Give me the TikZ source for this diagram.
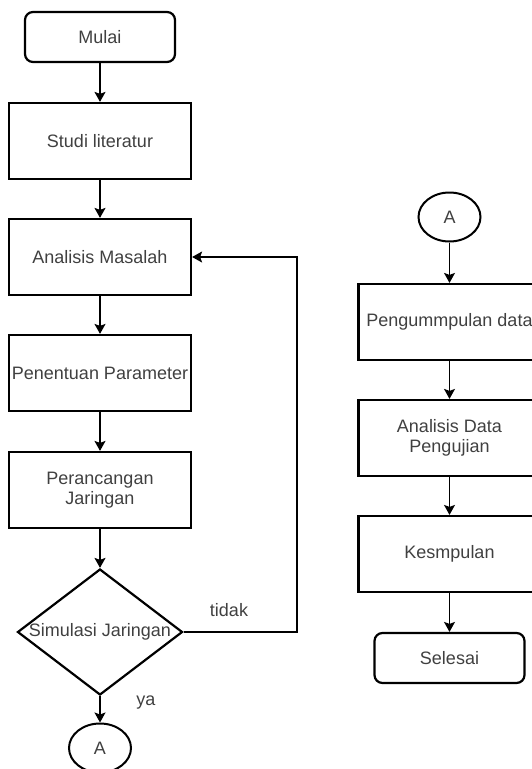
\documentclass[tikz,border=0pt]{standalone}
\usepackage{fontspec}
\setmainfont{Liberation Sans}
\usepackage{xcolor}
\usepackage{tikz}
\usetikzlibrary{arrows.meta, positioning, shapes.geometric}

\begin{document}
\begin{tikzpicture}[
  x=1pt, y=-1pt,
  every node/.style={font=\fontsize{18}{19.5}\selectfont, text=black!75},
  block/.style={rectangle, draw, line width=2.2pt, minimum width=182pt, minimum height=76pt, inner sep=0pt, align=center},
  term/.style={rectangle, draw, rounded corners=8pt, line width=2.2pt, minimum width=150pt, minimum height=50pt},
  decision/.style={diamond, draw, line width=2.2pt, minimum width=165pt, minimum height=126pt, inner sep=0pt},
  conn/.style={ellipse, draw, line width=2pt, minimum width=62pt, minimum height=49pt, inner sep=0pt},
  arrow/.style={-{Stealth[length=10pt, width=11pt, inset=2pt]}, line width=1.3pt}
]
 \useasboundingbox (0,0) rectangle (531,769);

 % Left column
 \node[term] (mulai) at (100,37) {Mulai};
 \node[block] (studi) at (100,141) {Studi literatur};
 \node[block] (masalah) at (100,257) {Analisis Masalah};
 \node[block] (param) at (100,373) {Penentuan Parameter};
 \node[block] (rancang) at (100,490) {Perancangan\\ Jaringan};
 \node[decision, label={[font=\fontsize{18}{19.5}\selectfont, text=black!75]center:Simulasi Jaringan}] (simulasi) at (100,632) {};
 \node[conn] (konA) at (100,748) {A};
 \draw[arrow] (mulai) -- (studi);
 \draw[arrow] (studi) -- (masalah);
 \draw[arrow] (masalah) -- (param);
 \draw[arrow] (param) -- (rancang);
 \draw[arrow] (rancang) -- (simulasi);
 \draw[arrow] (simulasi) -- (konA);
 \node (ya) at (146,703) {ya};

 % Loop back
 \coordinate (balik) at (297,632);
 \draw[arrow] (simulasi.east) -- (balik) |- (masalah.east);
 \node (tidak) at (229,610) {tidak};

 % Right column
 \node[conn] (konB) at (449.5,217) {A};
 \node[block] (kumpul) at (449.5,322) {Pengummpulan data};
 \node[block] (uji) at (449.5,438) {Analisis Data\\ Pengujian};
 \node[block] (simpul) at (449.5,554) {Kesmpulan};
 \node[term] (selesai) at (449.5,658) {Selesai};
 \draw[arrow] (konB) -- (kumpul);
 \draw[arrow] (kumpul) -- (uji);
 \draw[arrow] (uji) -- (simpul);
 \draw[arrow] (simpul) -- (selesai);
\end{tikzpicture}
\end{document}
